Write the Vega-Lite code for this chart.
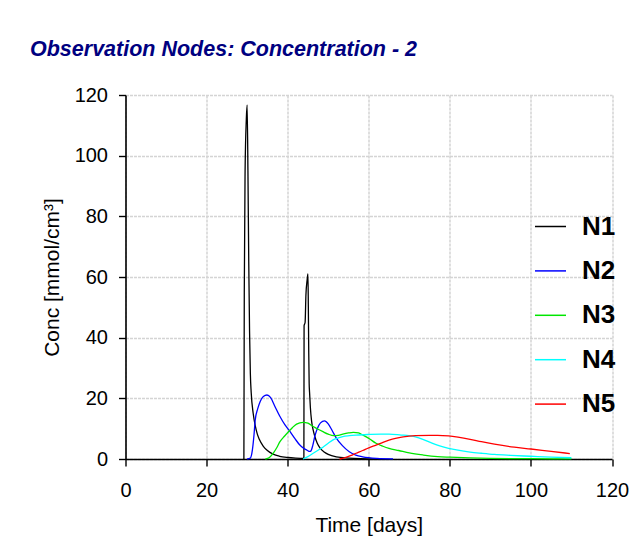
{
  "$schema": "https://vega.github.io/schema/vega-lite/v6.json",
  "autosize": {"type": "none"},
  "width": 486.5,
  "height": 364,
  "padding": {"left": 125.5, "top": 95, "right": 22, "bottom": 96},
  "background": "white",
  "title": {
    "text": "Observation Nodes: Concentration - 2",
    "anchor": "start",
    "frame": "group",
    "dx": -95.5,
    "offset": 3,
    "baseline": "bottom",
    "font": "Liberation Sans",
    "fontSize": 21.5,
    "fontWeight": "bold",
    "fontStyle": "italic",
    "color": "#000080"
  },
  "config": {
    "view": {"stroke": null},
    "font": "Liberation Sans",
    "axis": {
      "domainColor": "black",
      "domainWidth": 1.6,
      "tickColor": "black",
      "tickWidth": 1.4,
      "tickSize": 7,
      "labelFont": "Liberation Sans",
      "labelFontSize": 20,
      "labelColor": "black",
      "titleFont": "Liberation Sans",
      "titleFontSize": 21,
      "titleFontWeight": "normal",
      "titleColor": "black",
      "gridColor": "#d4d4d4",
      "gridWidth": 1.5,
      "gridDash": [3, 1]
    }
  },
  "data": {
    "values": [
      {"node": "N1", "t": 29.2, "c": 0},
      {"node": "N1", "t": 29.3, "c": 55},
      {"node": "N1", "t": 29.5, "c": 95},
      {"node": "N1", "t": 29.8, "c": 112},
      {"node": "N1", "t": 30.0, "c": 116.7},
      {"node": "N1", "t": 30.2, "c": 95},
      {"node": "N1", "t": 30.4, "c": 65},
      {"node": "N1", "t": 30.6, "c": 42},
      {"node": "N1", "t": 30.8, "c": 28},
      {"node": "N1", "t": 31.0, "c": 22},
      {"node": "N1", "t": 31.5, "c": 15},
      {"node": "N1", "t": 32.0, "c": 11},
      {"node": "N1", "t": 32.5, "c": 8.3},
      {"node": "N1", "t": 33.0, "c": 6.5},
      {"node": "N1", "t": 34.0, "c": 4.2},
      {"node": "N1", "t": 35.0, "c": 2.8},
      {"node": "N1", "t": 36.4, "c": 1.6},
      {"node": "N1", "t": 38.0, "c": 0.9},
      {"node": "N1", "t": 40.0, "c": 0.5},
      {"node": "N1", "t": 42.0, "c": 0.3},
      {"node": "N1", "t": 44.0, "c": 0.2},
      {"node": "N1", "t": 44.05, "c": 44},
      {"node": "N1", "t": 44.3, "c": 45},
      {"node": "N1", "t": 44.5, "c": 54},
      {"node": "N1", "t": 44.8, "c": 59},
      {"node": "N1", "t": 45.0, "c": 61},
      {"node": "N1", "t": 45.1, "c": 50},
      {"node": "N1", "t": 45.2, "c": 35},
      {"node": "N1", "t": 45.3, "c": 25},
      {"node": "N1", "t": 45.4, "c": 22},
      {"node": "N1", "t": 45.6, "c": 17},
      {"node": "N1", "t": 45.9, "c": 12.5},
      {"node": "N1", "t": 46.3, "c": 9.5},
      {"node": "N1", "t": 46.7, "c": 7.4},
      {"node": "N1", "t": 47.3, "c": 5.2},
      {"node": "N1", "t": 48.0, "c": 3.6},
      {"node": "N1", "t": 49.0, "c": 2.3},
      {"node": "N1", "t": 50.0, "c": 1.5},
      {"node": "N1", "t": 52.0, "c": 0.7},
      {"node": "N1", "t": 55.0, "c": 0.3},
      {"node": "N1", "t": 58.0, "c": 0.1},
      {"node": "N1", "t": 62.0, "c": 0},

      {"node": "N2", "t": 30.0, "c": 0},
      {"node": "N2", "t": 30.8, "c": 0.3},
      {"node": "N2", "t": 31.3, "c": 3},
      {"node": "N2", "t": 31.7, "c": 8},
      {"node": "N2", "t": 32.0, "c": 12.9},
      {"node": "N2", "t": 32.6, "c": 16.5},
      {"node": "N2", "t": 33.2, "c": 18.9},
      {"node": "N2", "t": 34.0, "c": 20.6},
      {"node": "N2", "t": 34.9, "c": 21.1},
      {"node": "N2", "t": 35.8, "c": 20.2},
      {"node": "N2", "t": 36.8, "c": 17.5},
      {"node": "N2", "t": 38.1, "c": 14},
      {"node": "N2", "t": 39.3, "c": 11.3},
      {"node": "N2", "t": 40.6, "c": 9},
      {"node": "N2", "t": 41.8, "c": 6.7},
      {"node": "N2", "t": 43.0, "c": 4.6},
      {"node": "N2", "t": 44.0, "c": 3.5},
      {"node": "N2", "t": 44.8, "c": 2.9},
      {"node": "N2", "t": 45.4, "c": 2.5},
      {"node": "N2", "t": 45.7, "c": 2.6},
      {"node": "N2", "t": 46.2, "c": 4.5},
      {"node": "N2", "t": 46.7, "c": 7.5},
      {"node": "N2", "t": 47.3, "c": 10},
      {"node": "N2", "t": 48.1, "c": 11.9},
      {"node": "N2", "t": 49.1, "c": 12.6},
      {"node": "N2", "t": 50.0, "c": 11.6},
      {"node": "N2", "t": 51.0, "c": 9.3},
      {"node": "N2", "t": 52.0, "c": 6.9},
      {"node": "N2", "t": 53.5, "c": 4.4},
      {"node": "N2", "t": 55.2, "c": 2.4},
      {"node": "N2", "t": 56.8, "c": 1.3},
      {"node": "N2", "t": 58.5, "c": 0.7},
      {"node": "N2", "t": 62.0, "c": 0.2},
      {"node": "N2", "t": 66.0, "c": 0.05},

      {"node": "N3", "t": 34.5, "c": 0},
      {"node": "N3", "t": 35.5, "c": 0.5},
      {"node": "N3", "t": 36.5, "c": 2},
      {"node": "N3", "t": 37.3, "c": 3.7},
      {"node": "N3", "t": 38.1, "c": 5.7},
      {"node": "N3", "t": 39.2, "c": 7.5},
      {"node": "N3", "t": 40.2, "c": 9},
      {"node": "N3", "t": 41.2, "c": 10.4},
      {"node": "N3", "t": 42.2, "c": 11.5},
      {"node": "N3", "t": 43.8, "c": 12.1},
      {"node": "N3", "t": 45.0, "c": 11.8},
      {"node": "N3", "t": 46.3, "c": 10.7},
      {"node": "N3", "t": 47.5, "c": 9.8},
      {"node": "N3", "t": 48.7, "c": 9},
      {"node": "N3", "t": 50.0, "c": 8.2},
      {"node": "N3", "t": 51.3, "c": 7.7},
      {"node": "N3", "t": 52.5, "c": 7.8},
      {"node": "N3", "t": 53.6, "c": 8.2},
      {"node": "N3", "t": 55.0, "c": 8.6},
      {"node": "N3", "t": 56.2, "c": 8.8},
      {"node": "N3", "t": 57.5, "c": 8.6},
      {"node": "N3", "t": 58.5, "c": 7.9},
      {"node": "N3", "t": 60.0, "c": 6.8},
      {"node": "N3", "t": 61.8, "c": 5.2},
      {"node": "N3", "t": 63.5, "c": 4.2},
      {"node": "N3", "t": 65.0, "c": 3.5},
      {"node": "N3", "t": 67.4, "c": 2.8},
      {"node": "N3", "t": 70.0, "c": 2.0},
      {"node": "N3", "t": 73.5, "c": 1.3},
      {"node": "N3", "t": 77.0, "c": 0.8},
      {"node": "N3", "t": 80.0, "c": 0.6},
      {"node": "N3", "t": 85.0, "c": 0.35},
      {"node": "N3", "t": 90.0, "c": 0.2},
      {"node": "N3", "t": 100.0, "c": 0.1},
      {"node": "N3", "t": 110.0, "c": 0.05},

      {"node": "N4", "t": 43.8, "c": 0},
      {"node": "N4", "t": 45.0, "c": 0.8},
      {"node": "N4", "t": 46.3, "c": 1.9},
      {"node": "N4", "t": 47.5, "c": 2.9},
      {"node": "N4", "t": 48.7, "c": 3.9},
      {"node": "N4", "t": 50.0, "c": 5.2},
      {"node": "N4", "t": 51.2, "c": 6.3},
      {"node": "N4", "t": 52.4, "c": 6.9},
      {"node": "N4", "t": 53.6, "c": 7.4},
      {"node": "N4", "t": 55.2, "c": 7.7},
      {"node": "N4", "t": 56.9, "c": 7.9},
      {"node": "N4", "t": 60.1, "c": 8.1},
      {"node": "N4", "t": 63.0, "c": 8.2},
      {"node": "N4", "t": 65.0, "c": 8.2},
      {"node": "N4", "t": 68.0, "c": 7.9},
      {"node": "N4", "t": 69.9, "c": 7.7},
      {"node": "N4", "t": 71.5, "c": 7.3},
      {"node": "N4", "t": 73.5, "c": 6.4},
      {"node": "N4", "t": 75.6, "c": 5.2},
      {"node": "N4", "t": 77.5, "c": 4.3},
      {"node": "N4", "t": 79.7, "c": 3.5},
      {"node": "N4", "t": 82.0, "c": 2.9},
      {"node": "N4", "t": 85.0, "c": 2.3},
      {"node": "N4", "t": 87.8, "c": 1.9},
      {"node": "N4", "t": 91.0, "c": 1.5},
      {"node": "N4", "t": 95.0, "c": 1.2},
      {"node": "N4", "t": 100.0, "c": 0.9},
      {"node": "N4", "t": 105.0, "c": 0.6},
      {"node": "N4", "t": 110.0, "c": 0.4},

      {"node": "N5", "t": 52.8, "c": 0},
      {"node": "N5", "t": 54.0, "c": 0.4},
      {"node": "N5", "t": 55.5, "c": 1.1},
      {"node": "N5", "t": 56.9, "c": 1.9},
      {"node": "N5", "t": 58.5, "c": 2.8},
      {"node": "N5", "t": 60.0, "c": 3.7},
      {"node": "N5", "t": 61.8, "c": 4.6},
      {"node": "N5", "t": 63.5, "c": 5.5},
      {"node": "N5", "t": 65.0, "c": 6.2},
      {"node": "N5", "t": 66.6, "c": 6.8},
      {"node": "N5", "t": 68.5, "c": 7.3},
      {"node": "N5", "t": 71.5, "c": 7.7},
      {"node": "N5", "t": 75.0, "c": 7.8},
      {"node": "N5", "t": 77.0, "c": 7.8},
      {"node": "N5", "t": 79.7, "c": 7.6},
      {"node": "N5", "t": 82.0, "c": 7.2},
      {"node": "N5", "t": 85.0, "c": 6.5},
      {"node": "N5", "t": 87.8, "c": 5.7},
      {"node": "N5", "t": 91.0, "c": 4.9},
      {"node": "N5", "t": 95.9, "c": 3.9},
      {"node": "N5", "t": 100.0, "c": 3.3},
      {"node": "N5", "t": 105.0, "c": 2.5},
      {"node": "N5", "t": 109.6, "c": 1.8}
    ]
  },
  "mark": {"type": "line", "strokeWidth": 1.3, "interpolate": "monotone"},
  "encoding": {
    "x": {
      "field": "t",
      "type": "quantitative",
      "scale": {"domain": [0, 120], "nice": false, "zero": false},
      "axis": {
        "title": "Time [days]",
        "values": [0, 20, 40, 60, 80, 100, 120],
        "labelPadding": 14,
        "titlePadding": 14,
        "labelFlush": false
      }
    },
    "y": {
      "field": "c",
      "type": "quantitative",
      "scale": {"domain": [0, 120], "nice": false},
      "axis": {
        "title": "Conc [mmol/cm³]",
        "values": [0, 20, 40, 60, 80, 100, 120],
        "labelPadding": 11,
        "titlePadding": 12,
        "labelFlush": false
      }
    },
    "color": {
      "field": "node",
      "type": "nominal",
      "scale": {
        "domain": ["N1", "N2", "N3", "N4", "N5"],
        "range": ["#000000", "#0000ff", "#00e600", "#00ffff", "#ff0000"]
      },
      "legend": {
        "title": null,
        "orient": "none",
        "legendX": 408.5,
        "legendY": 115,
        "symbolType": "stroke",
        "symbolSize": 961,
        "symbolStrokeWidth": 1.5,
        "labelFontSize": 26,
        "labelFontWeight": "bold",
        "labelColor": "black",
        "labelFont": "Liberation Sans",
        "labelOffset": 15,
        "rowPadding": 14.4
      }
    }
  }
}
